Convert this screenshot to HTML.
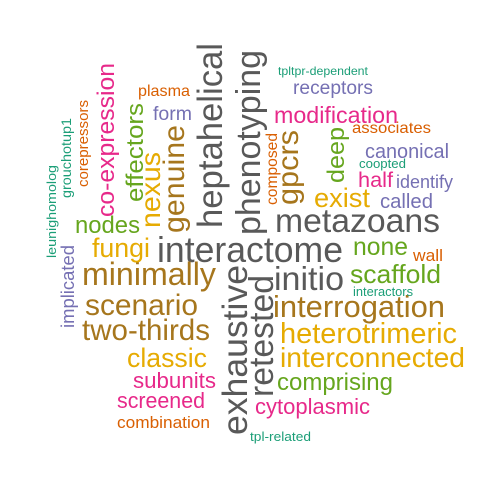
<!DOCTYPE html>
<html><head><meta charset="utf-8"><style>html,body{margin:0;padding:0;background:#fff}svg{display:block}text{font-family:"Liberation Sans",Arial,sans-serif}</style></head>
<body>
<svg width="500" height="500" viewBox="0 0 500 500" xmlns="http://www.w3.org/2000/svg">
<rect width="500" height="500" fill="#fff"/>
<g lengthAdjust="spacingAndGlyphs">
<!-- horizontal -->
<text x="157" y="262" font-size="36" fill="#595959" textLength="186" lengthAdjust="spacingAndGlyphs">interactome</text>
<text x="275" y="232" font-size="33" fill="#595959" textLength="165" lengthAdjust="spacingAndGlyphs">metazoans</text>
<text x="274" y="290" font-size="33" fill="#595959" textLength="70" lengthAdjust="spacingAndGlyphs">initio</text>
<text x="82" y="285" font-size="32" fill="#A6761D" textLength="134" lengthAdjust="spacingAndGlyphs">minimally</text>
<text x="85" y="315" font-size="30" fill="#A6761D" textLength="113" lengthAdjust="spacingAndGlyphs">scenario</text>
<text x="273" y="317" font-size="31" fill="#A6761D" textLength="172" lengthAdjust="spacingAndGlyphs">interrogation</text>
<text x="82" y="340" font-size="30" fill="#A6761D" textLength="128" lengthAdjust="spacingAndGlyphs">two-thirds</text>
<text x="280" y="343" font-size="29" fill="#E6AB02" textLength="177" lengthAdjust="spacingAndGlyphs">heterotrimeric</text>
<text x="280" y="367" font-size="28" fill="#E6AB02" textLength="185" lengthAdjust="spacingAndGlyphs">interconnected</text>
<text x="127" y="367" font-size="27" fill="#E6AB02" textLength="80" lengthAdjust="spacingAndGlyphs">classic</text>
<text x="133" y="388" font-size="22" fill="#E7298A" textLength="83" lengthAdjust="spacingAndGlyphs">subunits</text>
<text x="277" y="390" font-size="24" fill="#66A61E" textLength="116" lengthAdjust="spacingAndGlyphs">comprising</text>
<text x="117" y="408" font-size="22" fill="#E7298A" textLength="88" lengthAdjust="spacingAndGlyphs">screened</text>
<text x="255" y="414" font-size="22" fill="#E7298A" textLength="115" lengthAdjust="spacingAndGlyphs">cytoplasmic</text>
<text x="117" y="428" font-size="17" fill="#D95F02" textLength="93" lengthAdjust="spacingAndGlyphs">combination</text>
<text x="250" y="441" font-size="13" fill="#1B9E77" textLength="61" lengthAdjust="spacingAndGlyphs">tpl-related</text>
<text x="353" y="255" font-size="25" fill="#66A61E" textLength="55" lengthAdjust="spacingAndGlyphs">none</text>
<text x="413" y="261" font-size="17" fill="#D95F02" textLength="30" lengthAdjust="spacingAndGlyphs">wall</text>
<text x="350" y="283" font-size="26" fill="#66A61E" textLength="91" lengthAdjust="spacingAndGlyphs">scaffold</text>
<text x="353" y="296" font-size="12.5" fill="#1B9E77" textLength="60" lengthAdjust="spacingAndGlyphs">interactors</text>
<text x="92" y="257" font-size="27" fill="#E6AB02" textLength="58" lengthAdjust="spacingAndGlyphs">fungi</text>
<text x="75" y="233" font-size="24" fill="#66A61E" textLength="65" lengthAdjust="spacingAndGlyphs">nodes</text>
<text x="153" y="120" font-size="19.5" fill="#7570B3" textLength="39" lengthAdjust="spacingAndGlyphs">form</text>
<text x="138" y="96" font-size="16" fill="#D95F02" textLength="52" lengthAdjust="spacingAndGlyphs">plasma</text>
<text x="278" y="75" font-size="12" fill="#1B9E77" textLength="90" lengthAdjust="spacingAndGlyphs">tpltpr-dependent</text>
<text x="293" y="94" font-size="19" fill="#7570B3" textLength="80" lengthAdjust="spacingAndGlyphs">receptors</text>
<text x="274" y="123" font-size="23" fill="#E7298A" textLength="124" lengthAdjust="spacingAndGlyphs">modification</text>
<text x="352" y="133" font-size="16" fill="#D95F02" textLength="79" lengthAdjust="spacingAndGlyphs">associates</text>
<text x="365" y="158" font-size="20" fill="#7570B3" textLength="84" lengthAdjust="spacingAndGlyphs">canonical</text>
<text x="359" y="168" font-size="12.5" fill="#1B9E77" textLength="47" lengthAdjust="spacingAndGlyphs">coopted</text>
<text x="358" y="187" font-size="21.5" fill="#E7298A" textLength="35" lengthAdjust="spacingAndGlyphs">half</text>
<text x="396" y="188" font-size="18" fill="#7570B3" textLength="57" lengthAdjust="spacingAndGlyphs">identify</text>
<text x="314" y="207" font-size="27" fill="#E6AB02" textLength="56" lengthAdjust="spacingAndGlyphs">exist</text>
<text x="380" y="208" font-size="20" fill="#7570B3" textLength="53" lengthAdjust="spacingAndGlyphs">called</text>
<!-- vertical -->
<text transform="translate(222,228) rotate(-90)" font-size="35" fill="#595959" textLength="185" lengthAdjust="spacingAndGlyphs">heptahelical</text>
<text transform="translate(260,235) rotate(-90)" font-size="34" fill="#595959" textLength="185" lengthAdjust="spacingAndGlyphs">phenotyping</text>
<text transform="translate(247,435) rotate(-90)" font-size="35" fill="#595959" textLength="170" lengthAdjust="spacingAndGlyphs">exhaustive</text>
<text transform="translate(273,397) rotate(-90)" font-size="34" fill="#595959" textLength="122" lengthAdjust="spacingAndGlyphs">retested</text>
<text transform="translate(184,233) rotate(-90)" font-size="30" fill="#A6761D" textLength="108" lengthAdjust="spacingAndGlyphs">genuine</text>
<text transform="translate(160,228) rotate(-90)" font-size="28" fill="#E6AB02" textLength="76" lengthAdjust="spacingAndGlyphs">nexus</text>
<text transform="translate(143,202) rotate(-90)" font-size="24" fill="#66A61E" textLength="99" lengthAdjust="spacingAndGlyphs">effectors</text>
<text transform="translate(114,217) rotate(-90)" font-size="24" fill="#E7298A" textLength="154" lengthAdjust="spacingAndGlyphs">co-expression</text>
<text transform="translate(88,187) rotate(-90)" font-size="15" fill="#D95F02" textLength="87" lengthAdjust="spacingAndGlyphs">corepressors</text>
<text transform="translate(71,198) rotate(-90)" font-size="14" fill="#1B9E77" textLength="80" lengthAdjust="spacingAndGlyphs">grouchotup1</text>
<text transform="translate(56,258) rotate(-90)" font-size="13" fill="#1B9E77" textLength="93" lengthAdjust="spacingAndGlyphs">leunighomolog</text>
<text transform="translate(74,328) rotate(-90)" font-size="18.5" fill="#7570B3" textLength="83" lengthAdjust="spacingAndGlyphs">implicated</text>
<text transform="translate(298,205) rotate(-90)" font-size="30" fill="#A6761D" textLength="75" lengthAdjust="spacingAndGlyphs">gpcrs</text>
<text transform="translate(344,183) rotate(-90)" font-size="24" fill="#66A61E" textLength="56" lengthAdjust="spacingAndGlyphs">deep</text>
<text transform="translate(277,205) rotate(-90)" font-size="15.5" fill="#D95F02" textLength="72" lengthAdjust="spacingAndGlyphs">composed</text>
</g>
</svg>
</body></html>
